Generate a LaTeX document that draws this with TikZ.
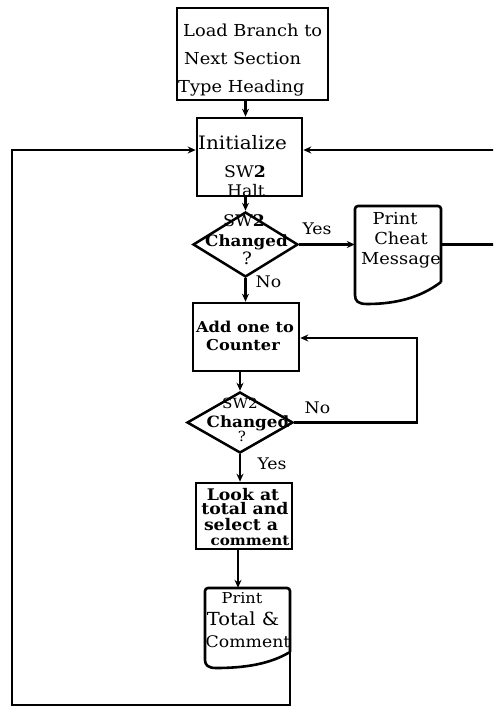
\documentclass[tikz,border=0pt]{standalone}
\usepackage{fontspec}
\setmainfont{DejaVu Serif}[FakeStretch=1.08]
\usetikzlibrary{shapes.geometric,arrows.meta}
\begin{document}
\begin{tikzpicture}[x=1pt,y=-1pt,
  box/.style={draw,line width=2.6pt,inner sep=0pt,rectangle},
  decision/.style={draw,line width=2.5pt,inner sep=0pt,diamond},
  region/.style={inner sep=0pt,rectangle},
  docline/.style={line width=2.6pt},
  flow/.style={line width=2.2pt,-{Stealth[length=8pt,width=7pt]}},
  wire/.style={line width=2.2pt},
  lbl/.style={inner sep=0pt,anchor=base},
  fs/.style={font={\fontsize{#1pt}{#1pt}\selectfont}},
  fsb/.style={font={\fontsize{#1pt}{#1pt}\selectfont\bfseries}}
]
\path[use as bounding box,clip] (0,0) rectangle (493,708);

% process boxes
\node[box,minimum width=151pt,minimum height=92pt] (load) at (252.5,54) {};
\node[box,minimum width=105pt,minimum height=78pt] (init) at (249.5,157) {};
\node[box,minimum width=106pt,minimum height=68pt] (add)  at (246,337) {};
\node[box,minimum width=96pt,minimum height=66pt]  (look) at (244,516) {};

% decisions
\node[decision,minimum width=105pt,minimum height=65pt] (d1) at (245.5,244.5) {};
\node[decision,minimum width=106pt,minimum height=61pt] (d2) at (240,422.5) {};

% printed documents
\node[region,minimum width=86pt,minimum height=97pt] (cheat) at (398,254.5) {};
\draw[docline] (441,282) [rounded corners=3pt] -- (441,206) -- (355,206) -- (355,292)
  [sharp corners] .. controls (355,301) and (358,304) .. (367,304)
  .. controls (395,304) and (420,298) .. (441,282);
\node[region,minimum width=85pt,minimum height=80pt] (total) at (247.5,628) {};
\draw[docline] (290,652) [rounded corners=3pt] -- (290,588) -- (205,588) -- (205,657)
  [sharp corners] .. controls (205,665) and (208,668) .. (216,668)
  .. controls (245,668) and (270,664) .. (290,652);
\coordinate (tout) at (290,652);

% loop corners
\coordinate (lb) at (12,705);
\coordinate (lt) at (12,150);
\coordinate (rt) at (505,150);
\coordinate (nl) at (417,338);

% main column
\draw[flow] (load.south -| d1.north) -- (init.north -| d1.north);
\draw[flow] (init.south -| d1.north) -- (d1.north);
\draw[flow] (d1.south) -- (add.north -| d1.south);
\draw[flow] (add.south -| d2.north) -- (d2.north);
\draw[flow] (d2.south) -- (look.north -| d2.south);
\draw[flow] ([xshift=-6pt]look.south) -- ([xshift=-9.5pt]total.north);

% branches
\draw[flow] (d1.east) -- (cheat.west |- d1.east);
\draw[wire] (cheat.east |- d1.east) -| (rt);
\draw[flow] (rt) -- (init.east |- rt);
\draw[flow] (d2.east) -| (nl) -- (add.east |- nl);
\draw[flow] (tout) |- (lb) -- (lt) -- (init.west |- lt);

% texts
\begin{scope}[fs=16.5]
\node[lbl,anchor=base west] (l1) at (183,37) {Load Branch to};
\node[lbl,anchor=base west] (l2) at (184,65) {Next Section};
\node[lbl,anchor=base west] (l3) at (178,93) {Type Heading};
\end{scope}
\begin{scope}[fs=16]
\node[lbl,fs=18.5] (i1) at (242.5,150) {Initialize};
\node[lbl] (i2) at (245,178) {SW\textbf{2}};
\node[lbl] (i3) at (246,197) {Halt};
\node[lbl] (y1) at (317,235) {Yes};
\node[lbl] (n1) at (268.5,287) {No};
\node[lbl,fs=16.5] (c1) at (395,225) {Print};
\node[lbl,fs=16.5] (c2) at (401,244) {Cheat};
\node[lbl,fs=16.5] (c3) at (401,264) {Message};
\node[lbl] (n2) at (317.5,413) {No};
\node[lbl] (y2) at (272,469) {Yes};
\end{scope}
\begin{scope}[fsb=15]
\node[lbl] (a1) at (245,332) {Add one to};
\node[lbl] (a2) at (243,350) {Counter};
\end{scope}
\begin{scope}[fs=17]
\node[lbl,fs=16] (q1) at (244,227) {SW\textbf{2}};
\node[lbl,fsb=15.5] (q2) at (246.5,247) {Changed};
\node[lbl] (q3) at (247,265) {?};
\node[lbl,fs=14] (r1) at (240,408) {SW2};
\node[lbl,fsb=15.5] (r2) at (248,427) {Changed};
\node[lbl,fs=14] (r3) at (242,441) {?};
\node[lbl,fs=15] (p1) at (242,603) {Print};
\node[lbl,fs=18] (p2) at (243,625) {Total \&};
\node[lbl,fs=16] (p3) at (248,647) {Comment};
\end{scope}
\begin{scope}[fsb=16]
\node[lbl] (k1) at (243,500) {Look at};
\node[lbl] (k2) at (245,514.5) {total and};
\node[lbl] (k3) at (241,530) {select a};
\node[lbl,fsb=14] (k4) at (250,545) {comment};
\end{scope}
\end{tikzpicture}
\end{document}
